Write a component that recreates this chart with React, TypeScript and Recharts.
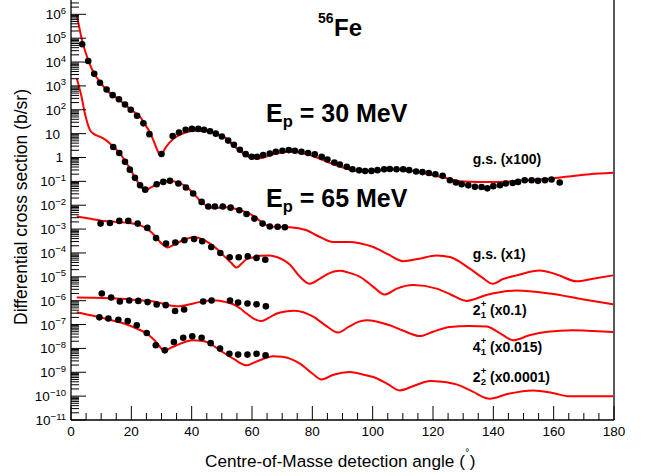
import React from "react";
import { ComposedChart, Line, Scatter, XAxis, YAxis, ReferenceLine } from "recharts";

// 56Fe(p,p) angular distributions, [angle (deg), cross section (b/sr)], already multiplied by the labelled factors

// Ep = 30 MeV, g.s. (x100)
const gs30Theory: [number, number][] = [
  [1.9, 1.0e6], [3.7, 7.9e4], [5.7, 1.2e4], [7.7, 3.2e3], [9.6, 1.5e3], [12, 6.3e2], [14, 4.1e2],
  [18, 1.6e2], [20, 98], [22.9, 50], [24.5, 25], [26.2, 11], [27.3, 5.4], [28.5, 2.2], [29.8, 1.15],
  [31, 2.2], [32.5, 4.0], [33.9, 6.0], [36, 8.9], [38.3, 11.5], [40.5, 13.2], [43, 13.2], [45, 12.6],
  [48, 10], [51.6, 6.3], [53.8, 3.2], [56, 1.9], [58, 1.26], [60, 0.93], [62.5, 0.93], [65, 1.12],
  [68, 1.48], [72.6, 1.74], [76, 1.58], [80, 1.17], [83.6, 0.78], [87, 0.52], [91, 0.35], [94.7, 0.27],
  [99, 0.27], [103.5, 0.3], [108, 0.32], [112, 0.28], [116, 0.24], [120, 0.18], [124, 0.14], [129, 0.1],
  [135, 0.095], [142, 0.095], [150, 0.11], [158.7, 0.13], [165, 0.16], [172, 0.2], [179.7, 0.23],
];
const gs30Data: [number, number][] = [
  [3.7, 5.6e4], [5.7, 1.1e4], [7.7, 3.2e3], [9.6, 1.35e3], [11.8, 7.1e2], [13.8, 4.1e2], [15.9, 2.75e2],
  [17.9, 1.66e2], [19.8, 1.0e2], [21.9, 56], [24.0, 27], [26.0, 9.5], [30.0, 1.4], [33.7, 7.9],
  [35.8, 11.2], [38.0, 14.5], [40.1, 15.8], [42.2, 15.8], [44.1, 14.5], [46.1, 12.6], [48.0, 10],
  [50.0, 7.6], [52.1, 5.1], [54.0, 3.4], [56.0, 2.1], [57.9, 1.38], [59.9, 1.07], [61.7, 1.07],
  [63.7, 1.26], [65.9, 1.48], [67.9, 1.74], [70.1, 1.91], [72.2, 2.04], [74.2, 1.91], [76.4, 1.74],
  [78.6, 1.55], [80.8, 1.35], [83.1, 1.07], [85.0, 0.83], [87.3, 0.62], [89.1, 0.51], [91.4, 0.41],
  [93.3, 0.32], [95.5, 0.29], [97.5, 0.27], [99.6, 0.275], [101.6, 0.295], [103.8, 0.32], [105.7, 0.33],
  [107.9, 0.32], [110.1, 0.32], [112.1, 0.295], [114.4, 0.26], [116.5, 0.245], [118.6, 0.224],
  [120.8, 0.2], [123.2, 0.17], [125.6, 0.112], [127.6, 0.089], [129.5, 0.076], [131.7, 0.068],
  [133.9, 0.059], [136.1, 0.058], [138.0, 0.051], [140.0, 0.063], [142.2, 0.069], [144.1, 0.081],
  [146.4, 0.085], [148.2, 0.095], [150.4, 0.112], [152.7, 0.112], [154.8, 0.105], [157.1, 0.112],
  [159.3, 0.12], [162.0, 0.089],
];

// Ep = 65 MeV, g.s. (x1)
const gs65Theory: [number, number][] = [
  [1.9, 2.1e3], [3.5, 3.5e2], [4.6, 71], [6.3, 14], [7.4, 10], [9.6, 7.4], [10.7, 6.3], [12.9, 3.9],
  [16.2, 1.48], [19.5, 0.35], [22, 0.1], [24.5, 0.043], [26.5, 0.056], [28.4, 0.076], [30.6, 0.1],
  [32.8, 0.107], [35.5, 0.089], [38.3, 0.059], [40.5, 0.032], [42.7, 0.016], [45, 9.3e-3], [47.2, 7.6e-3],
  [49.5, 7.9e-3], [51.6, 8.3e-3], [53.5, 7.6e-3], [56, 6.2e-3], [58.2, 5.0e-3], [60.4, 3.55e-3],
  [62.6, 2.24e-3], [64.8, 1.45e-3], [68.2, 1.23e-3], [72.6, 1.2e-3], [78.1, 8.9e-4], [82, 5.0e-4],
  [86.9, 2.9e-4], [92.4, 2.9e-4], [96, 2.5e-4], [100.2, 1.78e-4], [105, 8.9e-5], [110.1, 4.5e-5],
  [115, 5.6e-5], [121.2, 7.9e-5], [125.6, 6.8e-5], [132.2, 2.2e-5], [136, 1.0e-5], [139.9, 5.1e-6],
  [143, 7.9e-6], [147.7, 1.15e-5], [155.4, 1.86e-5], [161, 1.26e-5], [167.6, 6.5e-6], [173, 8.3e-6],
  [179.7, 1.15e-5],
];
const gs65Data: [number, number][] = [
  [14.0, 2.75], [16.0, 1.55], [17.9, 0.66], [19.5, 0.31], [21.2, 0.14], [22.9, 0.069], [24.6, 0.045],
  [28.4, 0.076], [30.6, 0.095], [32.8, 0.105], [35.6, 0.081], [38.1, 0.055], [40.5, 0.031],
  [43.3, 0.0138], [45.5, 8.9e-3], [47.7, 8.9e-3], [50.3, 8.9e-3], [52.9, 7.9e-3], [55.8, 6.2e-3],
  [58.2, 4.3e-3], [60.8, 2.75e-3], [63.5, 1.7e-3], [65.9, 1.29e-3], [68.5, 1.26e-3], [70.9, 1.2e-3],
];

// Ep = 65 MeV, 2+1 (x0.1)
const s21Theory: [number, number][] = [
  [1.9, 3.4e-3], [6, 2.75e-3], [10.7, 2.2e-3], [15, 2.0e-3], [19.5, 1.8e-3], [22.5, 1.5e-3],
  [25.1, 1.05e-3], [28, 5.0e-4], [30, 2.5e-4], [32, 1.7e-4], [34, 2.2e-4], [36.1, 3.0e-4], [38.5, 4.0e-4],
  [41, 4.5e-4], [43.5, 3.8e-4], [46.1, 2.45e-4], [48.3, 1.5e-4], [50.5, 7.9e-5], [53, 4.0e-5],
  [54.9, 2.45e-5], [56.5, 3.5e-5], [58.2, 5.5e-5], [60.4, 6.5e-5], [62.6, 7.6e-5], [65.9, 7.9e-5],
  [68.2, 6.8e-5], [70.5, 5.0e-5], [72.6, 3.2e-5], [75.9, 1.0e-5], [79.2, 5.1e-6], [82, 7.6e-6],
  [85, 1.3e-5], [89.1, 1.78e-5], [92, 1.5e-5], [95.8, 1.0e-5], [100, 4.0e-6], [104, 1.8e-6],
  [108, 3.2e-6], [113.4, 4.5e-6], [121.2, 3.2e-6], [126, 1.78e-6], [131.1, 9.8e-7], [138, 1.78e-6],
  [147.7, 2.7e-6], [158.7, 2.0e-6], [170, 1.12e-6], [179.7, 7.1e-7],
];
const s21Data: [number, number][] = [
  [9.8, 1.7e-3], [12.9, 1.8e-3], [16.0, 2.2e-3], [19.0, 2.2e-3], [22.1, 1.7e-3], [25.3, 1.12e-3],
  [28.2, 4.2e-4], [31.5, 2.45e-4], [34.6, 2.75e-4], [37.6, 3.4e-4], [40.8, 3.8e-4], [43.5, 3.1e-4],
  [46.5, 1.78e-4], [49.5, 1.0e-4], [52.6, 6.6e-5], [55.6, 6.6e-5], [58.6, 7.2e-5], [61.5, 6.2e-5],
  [64.4, 5.2e-5],
];

// Ep = 65 MeV, 4+1 (x0.015)
const s41Theory: [number, number][] = [
  [1.9, 1.35e-6], [8, 1.32e-6], [15.1, 1.23e-6], [22, 1.05e-6], [28.4, 8.7e-7], [32, 6.6e-7],
  [35, 5.8e-7], [37.5, 6.3e-7], [39.4, 7.1e-7], [43, 8.9e-7], [46, 1.02e-6], [48.3, 1.02e-6],
  [51, 8.9e-7], [53.8, 7.1e-7], [56, 4.8e-7], [58.2, 2.9e-7], [61, 1.66e-7], [63.2, 1.41e-7],
  [65.5, 1.9e-7], [68.2, 2.9e-7], [71, 3.55e-7], [74, 3.8e-7], [77, 3.3e-7], [80, 2.24e-7], [84, 1.0e-7],
  [88.6, 4.6e-8], [92, 7.9e-8], [95, 1.26e-7], [98, 1.51e-7], [101.5, 1.32e-7], [105.7, 9.3e-8],
  [110, 5.6e-8], [115.6, 3.3e-8], [120, 5.0e-8], [125.6, 7.9e-8], [132, 8.7e-8], [137.7, 8.3e-8],
  [142, 4.5e-8], [146.6, 2.2e-8], [152, 3.55e-8], [158, 5.0e-8], [166.4, 5.8e-8], [173, 5.4e-8],
  [179.7, 4.9e-8],
];
const s41Data: [number, number][] = [
  [10.2, 2.0e-6], [13.3, 1.35e-6], [16.2, 9.3e-7], [19.3, 1.02e-6], [22.3, 9.8e-7], [25.4, 8.7e-7],
  [28.4, 6.9e-7], [31.4, 6.5e-7], [34.5, 3.7e-7], [37.5, 4.3e-7], [43.8, 9.3e-7], [46.6, 1.02e-6],
  [52.7, 1.02e-6], [55.4, 8.3e-7], [58.5, 7.6e-7], [61.5, 7.1e-7], [64.6, 5.8e-7],
];

// Ep = 65 MeV, 2+2 (x0.0001)
const s22Theory: [number, number][] = [
  [1.9, 3.3e-7], [7, 2.4e-7], [12.9, 1.58e-7], [18, 1.05e-7], [21.8, 6.8e-8], [25.1, 4.2e-8],
  [28, 2.0e-8], [31.1, 7.8e-9], [33, 1.05e-8], [35, 1.35e-8], [38, 1.9e-8], [40.5, 2.2e-8], [43, 2.1e-8],
  [45, 1.86e-8], [49.4, 8.3e-9], [53.8, 3.7e-9], [58.2, 1.95e-9], [60.5, 2.5e-9], [62.6, 3.2e-9],
  [67, 4.7e-9], [70, 4.5e-9], [75.9, 2.3e-9], [80, 8.9e-10], [83.1, 5.0e-10], [87, 7.9e-10],
  [92.4, 1.02e-9], [97, 7.9e-10], [100.2, 6.3e-10], [105, 3.2e-10], [109, 1.74e-10], [114, 2.8e-10],
  [119, 4.3e-10], [123, 4.0e-10], [127.8, 3.1e-10], [133, 1.58e-10], [138.8, 7.8e-11], [145, 1.26e-10],
  [153.2, 1.74e-10], [160, 1.32e-10], [165.3, 9.8e-11], [172, 1.0e-10], [179.7, 1.0e-10],
];
const s22Data: [number, number][] = [
  [9.4, 2.0e-7], [12.4, 1.78e-7], [15.7, 1.58e-7], [18.8, 1.41e-7], [21.8, 9.3e-8], [25.1, 4.4e-8],
  [28.1, 1.35e-8], [31.1, 8.3e-9], [34.1, 1.86e-8], [37.2, 2.8e-8], [40.2, 3.2e-8], [43.3, 2.8e-8],
  [46.3, 1.66e-8], [49.4, 9.8e-9], [52.5, 6.0e-9], [55.4, 5.5e-9], [58.5, 5.5e-9], [61.5, 6.0e-9],
  [64.5, 5.1e-9],
];

const xMajorTicks = [0, 20, 40, 60, 80, 100, 120, 140, 160, 180];
const yDecades = [-11, -10, -9, -8, -7, -6, -5, -4, -3, -2, -1, 0, 1, 2, 3, 4, 5, 6];

const FONT = "'Liberation Sans', Arial, Helvetica, sans-serif";
const Y_MIN = 1e-11;
const Y_MAX = 3.98e6;

const toRows = (pts: [number, number][]) => pts.map(([angle, v]) => ({ angle, v }));

const theoryCurves = [gs30Theory, gs65Theory, s21Theory, s41Theory, s22Theory].map(toRows);
const measured = [gs30Data, gs65Data, s21Data, s41Data, s22Data].map(toRows);

// minor ticks every 5 deg, log minor ticks 2..9 per decade
const xTicks: number[] = [];
for (let a = 0; a <= 180; a += 5) xTicks.push(a);
const yTicks: number[] = [];
yDecades.forEach((e) => {
  for (let m = 1; m <= 9; m++) {
    const t = m * Math.pow(10, e);
    if (t <= Y_MAX && t >= Y_MIN) yTicks.push(t);
  }
});

const XTick = (props: any) => {
  const { x, y, payload } = props;
  const major = xMajorTicks.includes(payload.value);
  return (
    <g>
      <line x1={x} x2={x} y1={y} y2={y - (major ? 14 : 7)} stroke="#000" strokeWidth={1} />
      {major && (
        <text x={x} y={y + 16} textAnchor="middle" fontSize={13.5} fontFamily={FONT} fill="#000">
          {payload.value}
        </text>
      )}
    </g>
  );
};

const YTick = (props: any) => {
  const { x, y, payload } = props;
  const lg = Math.log10(payload.value);
  const e = Math.round(lg);
  const major = Math.abs(lg - e) < 1e-6;
  let label = null;
  if (major) {
    if (e === 0 || e === 1) {
      label = (
        <text x={x - (e === 0 ? 8 : 11)} y={y + 5} textAnchor="end" fontSize={13.5} fontFamily={FONT} fill="#000">
          {e === 0 ? "1" : "10"}
        </text>
      );
    } else {
      label = (
        <text x={x - 5} y={y + 5} textAnchor="end" fontSize={13.5} fontFamily={FONT} fill="#000">
          10
          <tspan dy={-5.5} fontSize={9.5}>{e < 0 ? `\u2212${-e}` : `${e}`}</tspan>
        </text>
      );
    }
  }
  return (
    <g>
      <line x1={x} x2={x + (major ? 15 : 8)} y1={y} y2={y} stroke="#000" strokeWidth={1} />
      {label}
    </g>
  );
};

const Dot = (props: any) => <circle cx={props.cx} cy={props.cy} r={3.3} fill="#000" />;

const StateLabel = ({ y, j, sub, factor }: { y: number; j: string; sub: string; factor: string }) => (
  <g fontFamily={FONT} fontWeight="bold" fill="#000">
    <text x={472.7} y={y} fontSize={14}>{j}</text>
    <text x={480.7} y={y - 7.5} fontSize={9.5}>+</text>
    <text x={480.7} y={y + 3.5} fontSize={9.5}>{sub}</text>
    <text x={490} y={y} fontSize={14}>{factor}</text>
  </g>
);

const App = () => {
  return (
    <div style={{ position: "absolute", left: 0, top: 0, width: 654, height: 476, background: "#fff" }}>
      <ComposedChart width={654} height={476} margin={{ top: 0, right: 40, bottom: 26, left: 11 }}>
        <XAxis
          type="number"
          dataKey="angle"
          domain={[0, 180]}
          ticks={xTicks}
          interval={0}
          allowDataOverflow
          tick={<XTick />}
          tickLine={false}
          tickSize={0}
          tickMargin={0}
          height={30}
          axisLine={{ stroke: "#000", strokeWidth: 1.3 }}
        />
        <YAxis
          type="number"
          dataKey="v"
          scale="log"
          domain={[Y_MIN, Y_MAX]}
          ticks={yTicks}
          interval={0}
          allowDataOverflow
          tick={<YTick />}
          tickLine={false}
          tickSize={0}
          tickMargin={0}
          width={60}
          axisLine={{ stroke: "#000", strokeWidth: 1.3 }}
        />
        <ReferenceLine x={180} stroke="#000" strokeWidth={1.3} />
        {measured.map((rows, i) => (
          <Scatter key={`d${i}`} data={rows} dataKey="v" shape={<Dot />} isAnimationActive={false} />
        ))}
        {theoryCurves.map((rows, i) => (
          <Line
            key={`t${i}`}
            data={rows}
            dataKey="v"
            type="monotone"
            stroke="#ff0000"
            strokeWidth={2}
            dot={false}
            activeDot={false}
            isAnimationActive={false}
          />
        ))}
      </ComposedChart>
      <svg
        width={654}
        height={476}
        style={{ position: "absolute", left: 0, top: 0, pointerEvents: "none" }}
      >
        <text
          transform="rotate(-90)"
          x={-207}
          y={27}
          textAnchor="middle"
          fontSize={17.5}
          fontFamily={FONT}
          fill="#000"
        >
          Differential cross section (b/sr)
        </text>
        <text x={205} y={467} fontSize={17.2} fontFamily={FONT} fill="#000">
          Centre-of-Masse detection angle (
          <tspan dx={0.5} dy={-11} fontSize={10}>°</tspan>
          <tspan dx={0.5} dy={11}>)</tspan>
        </text>

        <g fontFamily={FONT} fontWeight="bold" fill="#000">
          <text x={318} y={23.3} fontSize={14}>56</text>
          <text x={334} y={36} fontSize={24}>Fe</text>

          <text x={266} y={121.7} fontSize={25}>
            E<tspan dy={5} fontSize={16.5}>p</tspan><tspan dy={-5}> = 30 MeV</tspan>
          </text>
          <text x={266} y={206.7} fontSize={25}>
            E<tspan dy={5} fontSize={16.5}>p</tspan><tspan dy={-5}> = 65 MeV</tspan>
          </text>

          <text x={472.7} y={164} fontSize={14}>g.s. (x100)</text>
          <text x={472.7} y={259} fontSize={14}>g.s. (x1)</text>
        </g>
        <StateLabel y={314.5} j="2" sub="1" factor="(x0.1)" />
        <StateLabel y={351.5} j="4" sub="1" factor="(x0.015)" />
        <StateLabel y={381.5} j="2" sub="2" factor="(x0.0001)" />
      </svg>
    </div>
  );
};

export default App;
